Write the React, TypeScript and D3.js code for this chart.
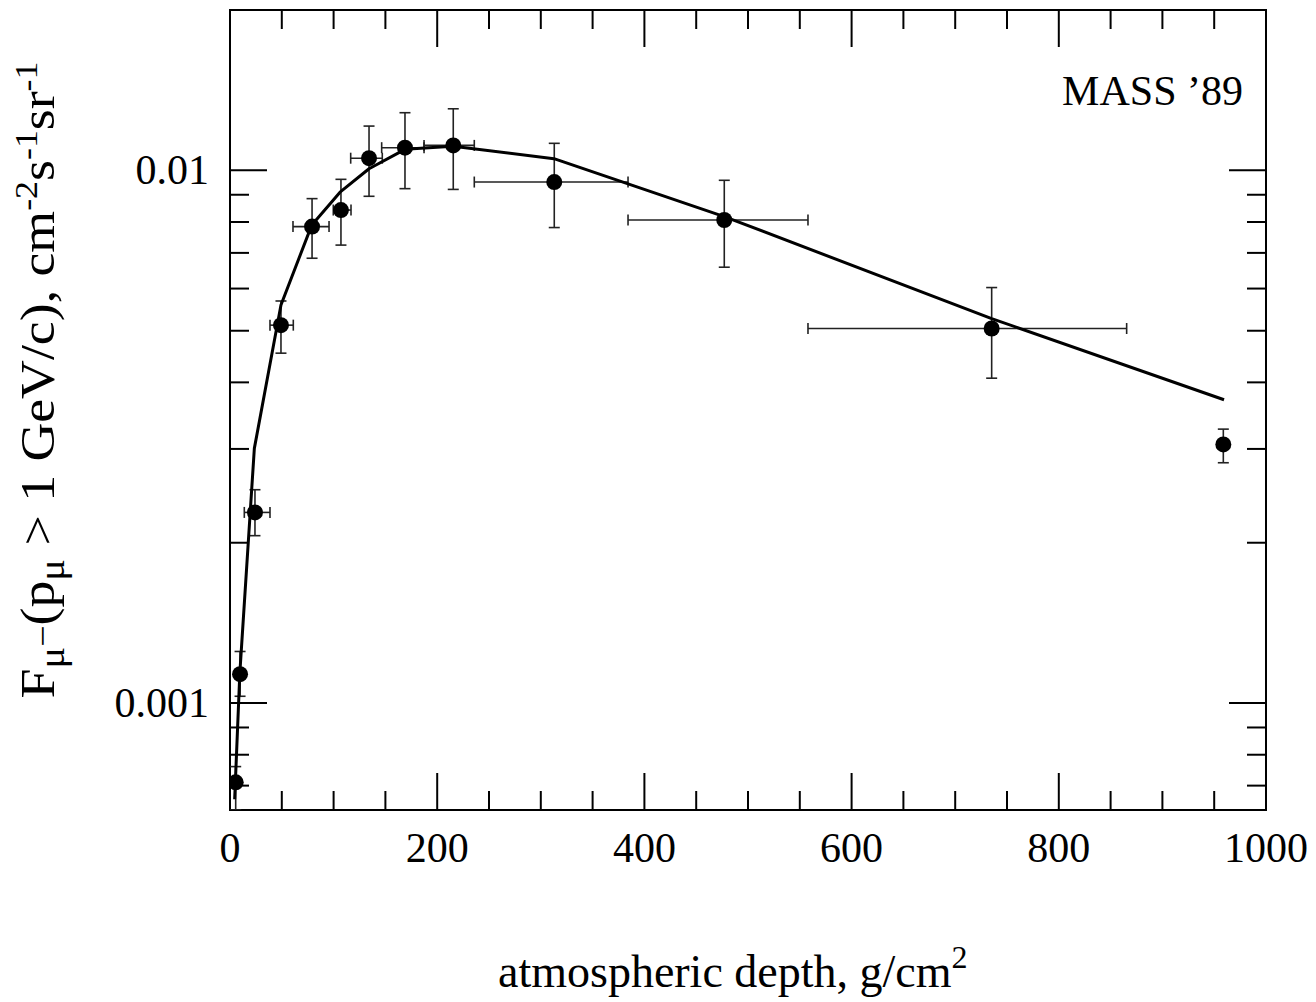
import React from "react";
import * as d3 from "d3";

// Data points (MASS '89)
const depth = [5.5, 9.7, 24.1, 49.2, 79.2, 107.1, 134.2, 168.9, 215.5, 313, 477.1, 735.2, 958.8];
const flux = [0.00071, 0.001133, 0.00228, 0.005122, 0.007842, 0.008424, 0.01054, 0.01103, 0.01114, 0.009508, 0.00807, 0.005048, 0.003059];
const fluxHi = [0.00076, 0.00125, 0.002515, 0.005686, 0.00885, 0.00962, 0.01211, 0.01283, 0.01305, 0.01124, 0.00958, 0.006026, 0.003268];
const fluxLo = [0.00063, 0.00103, 0.002062, 0.004538, 0.00684, 0.00724, 0.00894, 0.00924, 0.00921, 0.00781, 0.00658, 0.004073, 0.002826];
const depthLo = [5.5, 7, 13.8, 38.6, 60.8, 99.7, 116.5, 146.4, 187.3, 235.8, 384.2, 557.9, 958.8];
const depthHi = [5.5, 12.5, 38.6, 61.1, 95.6, 116.8, 147, 187.3, 235.8, 384.2, 557.9, 865.5, 958.8];

// Model curve
const curveX = [4.5, 9.5, 23.5, 49.2, 79, 106.2, 134.2, 168.9, 215.3, 312.7, 477.1, 735.2, 959.5];
const curveY = [0.00066, 0.00114, 0.003007, 0.00559, 0.0079, 0.0091, 0.01007, 0.01095, 0.0111, 0.01052, 0.00819, 0.00527, 0.00371];

// Axes
const xDomain = [0, 1000];
const yDomain = [0.00063, 0.02];
const xMajorTicks = [0, 200, 400, 600, 800, 1000];
const xTickLabels = ["0", "200", "400", "600", "800", "1000"];
const yMajorTicks = [0.001, 0.01];
const yTickLabels = ["0.001", "0.01"];
const yMinorTicks = [0.0007, 0.0008, 0.0009, 0.002, 0.003, 0.004, 0.005, 0.006, 0.007, 0.008, 0.009, 0.02];

const FONT = "'Liberation Serif', 'Times New Roman', Times, serif";

export default function App() {
  const L = 230, R = 1266, T = 10, B = 810;
  const x = d3.scaleLinear().domain(xDomain).range([L, R]);
  const y = d3.scaleLog().domain(yDomain).range([B, T]);
  const xMinor = d3.range(0, 1001, 50).filter((v) => v % 200 !== 0);

  const line = d3
    .line<number>()
    .x((_, i) => x(curveX[i]))
    .y((_, i) => y(curveY[i]));

  const majLen = 37, minLen = 19;
  const cap = 5.5;

  return (
    <svg
      width={1316}
      height={1002}
      style={{ position: "absolute", left: 0, top: 0, display: "block", background: "#fff" }}
      fontFamily={FONT}
    >
      <defs>
        <clipPath id="plotclip">
          <rect x={L} y={T} width={R - L} height={B - T} />
        </clipPath>
      </defs>

      {/* ticks */}
      <g stroke="#000" strokeWidth={2}>
        {xMajorTicks.map((v) => (
          <g key={"xm" + v}>
            <line x1={x(v)} x2={x(v)} y1={B} y2={B - majLen} />
            <line x1={x(v)} x2={x(v)} y1={T} y2={T + majLen} />
          </g>
        ))}
        {xMinor.map((v) => (
          <g key={"xn" + v}>
            <line x1={x(v)} x2={x(v)} y1={B} y2={B - minLen} />
            <line x1={x(v)} x2={x(v)} y1={T} y2={T + minLen} />
          </g>
        ))}
        {yMajorTicks.map((v) => (
          <g key={"ym" + v}>
            <line x1={L} x2={L + majLen} y1={y(v)} y2={y(v)} />
            <line x1={R} x2={R - majLen} y1={y(v)} y2={y(v)} />
          </g>
        ))}
        {yMinorTicks.map((v) => (
          <g key={"yn" + v}>
            <line x1={L} x2={L + minLen} y1={y(v)} y2={y(v)} />
            <line x1={R} x2={R - minLen} y1={y(v)} y2={y(v)} />
          </g>
        ))}
      </g>

      {/* frame */}
      <rect x={L} y={T} width={R - L} height={B - T} fill="none" stroke="#000" strokeWidth={2} />

      {/* tick labels */}
      <g fontSize={42} fill="#000">
        {xMajorTicks.map((v, i) => (
          <text key={"xl" + v} x={x(v)} y={862} textAnchor="middle">
            {xTickLabels[i]}
          </text>
        ))}
        {yMajorTicks.map((v, i) => (
          <text key={"yl" + v} x={209} y={y(v) + 14} textAnchor="end">
            {yTickLabels[i]}
          </text>
        ))}
      </g>

      <g clipPath="url(#plotclip)">
        {/* error bars */}
        <g stroke="#222" strokeWidth={1.6} fill="none">
          {depth.map((d, i) => {
            const cx = x(d);
            const cy = y(flux[i]);
            const x0 = x(depthLo[i]);
            const x1 = x(depthHi[i]);
            const yt = y(fluxHi[i]);
            const yb = y(fluxLo[i]);
            return (
              <g key={"e" + i}>
                <line x1={cx} x2={cx} y1={yt} y2={yb} />
                <line x1={cx - cap} x2={cx + cap} y1={yt} y2={yt} />
                <line x1={cx - cap} x2={cx + cap} y1={yb} y2={yb} />
                {x1 - x0 > 1 && (
                  <g>
                    <line x1={x0} x2={x1} y1={cy} y2={cy} />
                    <line x1={x0} x2={x0} y1={cy - cap} y2={cy + cap} />
                    <line x1={x1} x2={x1} y1={cy - cap} y2={cy + cap} />
                  </g>
                )}
              </g>
            );
          })}
        </g>

        {/* curve */}
        <path d={line(curveX) || ""} fill="none" stroke="#000" strokeWidth={3} strokeLinejoin="round" />

        {/* points */}
        {depth.map((d, i) => (
          <circle key={"p" + i} cx={x(d)} cy={y(flux[i])} r={8} fill="#000" />
        ))}
      </g>

      {/* annotation */}
      <text x={1243} y={105} fontSize={42} textAnchor="end" fill="#000">
        MASS ’89
      </text>

      {/* x title */}
      <text x={498} y={987} fontSize={46} fill="#000">
        atmospheric depth, g/cm
        <tspan fontSize={32} dy={-19}>2</tspan>
      </text>

      {/* y title */}
      <text
        transform="translate(54,380) rotate(-90) scale(1.12,1)"
        textAnchor="middle"
        fontSize={48}
        fill="#000"
      >
        F
        <tspan fontSize={36} dy={10}>μ</tspan>
        <tspan fontSize={34} dy={-10}>−</tspan>
        <tspan>(p</tspan>
        <tspan fontSize={36} dy={10}>μ</tspan>
        <tspan dy={-10}> &gt; 1 GeV/c), cm</tspan>
        <tspan fontSize={32} dy={-17}>-2</tspan>
        <tspan dy={17}>s</tspan>
        <tspan fontSize={32} dy={-17}>-1</tspan>
        <tspan dy={17}>sr</tspan>
        <tspan fontSize={32} dy={-17}>-1</tspan>
      </text>
    </svg>
  );
}
